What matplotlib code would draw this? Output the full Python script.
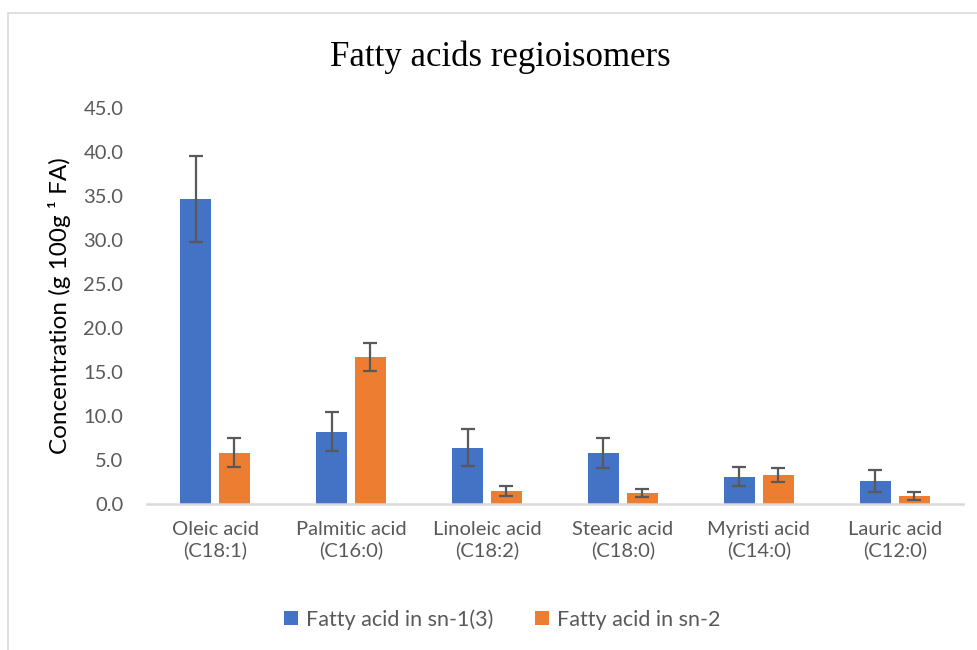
import matplotlib.pyplot as plt
import matplotlib.patches as mpatches
import numpy as np

# data
categories = ["Oleic acid\n(C18:1)", "Palmitic acid\n(C16:0)", "Linoleic acid\n(C18:2)",
              "Stearic acid\n(C18:0)", "Myristi acid\n(C14:0)", "Lauric acid\n(C12:0)"]
sn13 = [34.7, 8.2, 6.4, 5.8, 3.1, 2.6]
sn13_err = [4.9, 2.2, 2.1, 1.7, 1.1, 1.25]
sn2 = [5.8, 16.7, 1.5, 1.25, 3.3, 0.9]
sn2_err = [1.65, 1.6, 0.6, 0.45, 0.8, 0.45]
yticks = np.arange(0, 46, 5)

blue = '#4472C4'
orange = '#ED7D31'
grey = '#595959'
sans = 'Lato'

fig = plt.figure(figsize=(9.77, 6.5), dpi=100)
ax = fig.add_axes([0.1505, 0.2246, 0.835, 0.6092])

x = np.arange(len(categories))
w = 0.228
off = 0.143
ekw = dict(ecolor=grey, elinewidth=1.6, capsize=5, capthick=1.6)
b1 = ax.bar(x - off, sn13, w, yerr=sn13_err, color=blue, error_kw=ekw,
            label='Fatty acid in sn-1(3)')
b2 = ax.bar(x + off, sn2, w, yerr=sn2_err, color=orange, error_kw=ekw,
            label='Fatty acid in sn-2')

ax.set_xlim(-0.5, len(categories) - 0.5)
ax.set_ylim(0, 45)
ax.set_yticks(yticks)
ax.set_yticklabels(['%.1f' % v for v in yticks])
ax.set_xticks(x)
ax.set_xticklabels(categories)

for s in ['top', 'right', 'left']:
    ax.spines[s].set_visible(False)
ax.spines['bottom'].set_color('#D9D9D9')
ax.spines['bottom'].set_linewidth(1.8)
ax.tick_params(axis='both', length=0, labelsize=14.5, colors=grey,
               labelfontfamily=sans)
ax.tick_params(axis='y', pad=17)
ax.tick_params(axis='x', pad=12)
for t in ax.get_xticklabels():
    t.set_linespacing(1.25)

ax.set_ylabel('Concentration (g 100g \u00b9 FA)', fontsize=17.5, family=sans,
              color='black', labelpad=9)

fig.text(0.512, 0.912, 'Fatty acids regioisomers', ha='center', va='center',
         fontsize=25, family='Liberation Serif', color='black')

fig.legend(handles=[b1, b2], loc='center', bbox_to_anchor=(0.514, 0.047),
           ncol=2, frameon=False, prop={'family': sans, 'size': 15.5},
           labelcolor=grey, handlelength=0.65, handleheight=0.65,
           columnspacing=1.9, handletextpad=0.4)

# outer chart border
fig.patches.append(mpatches.Rectangle((0.008, -0.01), 1.1, 0.99, transform=fig.transFigure,
                                      fill=False, edgecolor='#D9D9D9', linewidth=1.2))

fig.savefig('out.png', dpi=100)
